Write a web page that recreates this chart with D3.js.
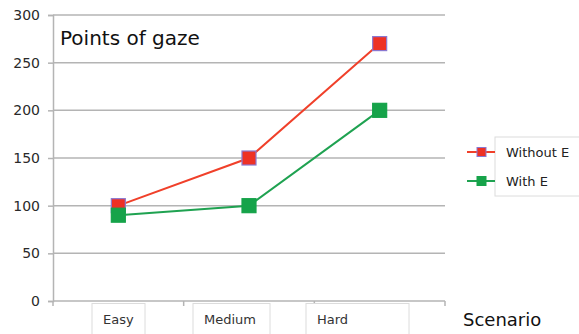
<!DOCTYPE html>
<html>
<head>
<meta charset="utf-8">
<script src="https://cdn.jsdelivr.net/npm/d3@7"></script>
<style>
  html, body { margin: 0; padding: 0; background: #fff; }
  svg { display: block; font-family: "DejaVu Sans", Verdana, sans-serif; }
</style>
</head>
<body>
<svg id="chart" width="579" height="334"></svg>
<script>
// Chart data
const scenarios = ["Easy", "Medium", "Hard"];
const withoutE = [100, 150, 270];
const withE = [90, 100, 200];
const yTicks = [0, 50, 100, 150, 200, 250, 300];
const seriesNames = ["Without E", "With E"];

const svg = d3.select("#chart");
const plot = { left: 53, right: 445, top: 15, bottom: 301 };

const x = d3.scaleBand().domain(scenarios).range([plot.left, plot.right]);
const y = d3.scaleLinear().domain([0, 300]).range([plot.bottom, plot.top]);

const gridColor = "#b4b4b4";
const lineColors = ["#f0402a", "#1fa251"];
const fillColors = ["#ee3124", "#16a34a"];
const strokeColors = ["#8a78d0", "#16a34a"];

// Horizontal gridlines
svg.append("g")
  .selectAll("line")
  .data(yTicks.filter(d => d > 0))
  .join("line")
  .attr("x1", plot.left).attr("x2", plot.right)
  .attr("y1", d => y(d)).attr("y2", d => y(d))
  .attr("stroke", gridColor).attr("stroke-width", 1.5);

// Y axis
const yAxis = svg.append("g")
  .attr("transform", `translate(${plot.left},0)`)
  .call(d3.axisLeft(y).tickValues(yTicks).tickSize(5).tickPadding(8));
yAxis.select(".domain").attr("stroke", gridColor).attr("stroke-width", 1.5);
yAxis.selectAll(".tick line").attr("stroke", gridColor).attr("stroke-width", 1.5);
yAxis.selectAll(".tick text")
  .attr("font-size", 14).attr("fill", "#2a2a2a")
  .attr("font-family", "DejaVu Sans, sans-serif");

// X axis line with category boundary ticks
svg.append("line")
  .attr("x1", plot.left).attr("x2", plot.right)
  .attr("y1", plot.bottom).attr("y2", plot.bottom)
  .attr("stroke", gridColor).attr("stroke-width", 1.5);
const bounds = scenarios.map(s => x(s)).concat([plot.right]);
svg.append("g").selectAll("line")
  .data(bounds)
  .join("line")
  .attr("x1", d => d).attr("x2", d => d)
  .attr("y1", plot.bottom).attr("y2", plot.bottom + 5)
  .attr("stroke", gridColor).attr("stroke-width", 1.5);

// Category labels inside small boxes
const labelBoxes = [
  { x: 92, w: 53 },
  { x: 193, w: 77 },
  { x: 306, w: 103 }
];
const catG = svg.append("g");
scenarios.forEach((s, i) => {
  const b = labelBoxes[i];
  catG.append("rect")
    .attr("x", b.x).attr("y", 303.5)
    .attr("width", b.w).attr("height", 32)
    .attr("fill", "#fff").attr("stroke", "#dcdcdc").attr("stroke-width", 1);
  catG.append("text")
    .attr("x", b.x + 11).attr("y", 324)
    .attr("font-size", 13).attr("fill", "#333")
    .text(s);
});

// Axis title
svg.append("text")
  .attr("x", 463).attr("y", 326)
  .attr("font-size", 18).attr("fill", "#111")
  .attr("font-family", "DejaVu Sans, sans-serif")
  .text("Scenario");

// Chart title
svg.append("text")
  .attr("x", 60).attr("y", 45)
  .attr("font-size", 20).attr("fill", "#111")
  .attr("font-family", "DejaVu Sans, sans-serif")
  .text("Points of gaze");

// Series lines and markers
const series = [withoutE, withE];
const cx = s => x(s) + x.bandwidth() / 2;
const line = d3.line().x((d, i) => cx(scenarios[i])).y(d => y(d));
const ms = 14;

series.forEach((vals, k) => {
  svg.append("path")
    .datum(vals)
    .attr("d", line)
    .attr("fill", "none")
    .attr("stroke", lineColors[k])
    .attr("stroke-width", 2);
});
series.forEach((vals, k) => {
  svg.append("g").selectAll("rect")
    .data(vals)
    .join("rect")
    .attr("x", (d, i) => cx(scenarios[i]) - ms / 2)
    .attr("y", d => y(d) - ms / 2)
    .attr("width", ms).attr("height", ms)
    .attr("fill", fillColors[k])
    .attr("stroke", strokeColors[k])
    .attr("stroke-width", 1.2);
});

// Legend
const legend = svg.append("g");
legend.append("rect")
  .attr("x", 495).attr("y", 137)
  .attr("width", 90).attr("height", 59)
  .attr("fill", "#fff").attr("stroke", "#dcdcdc");
seriesNames.forEach((name, k) => {
  const ly = 152 + k * 29;
  legend.append("line")
    .attr("x1", 467).attr("x2", 495)
    .attr("y1", ly).attr("y2", ly)
    .attr("stroke", lineColors[k]).attr("stroke-width", 2);
  legend.append("rect")
    .attr("x", 477).attr("y", ly - 4.5)
    .attr("width", 9).attr("height", 9)
    .attr("fill", fillColors[k])
    .attr("stroke", strokeColors[k]).attr("stroke-width", 1);
  legend.append("text")
    .attr("x", 506).attr("y", ly + 5)
    .attr("font-size", 13).attr("fill", "#222")
    .text(name);
});
</script>
</body>
</html>
